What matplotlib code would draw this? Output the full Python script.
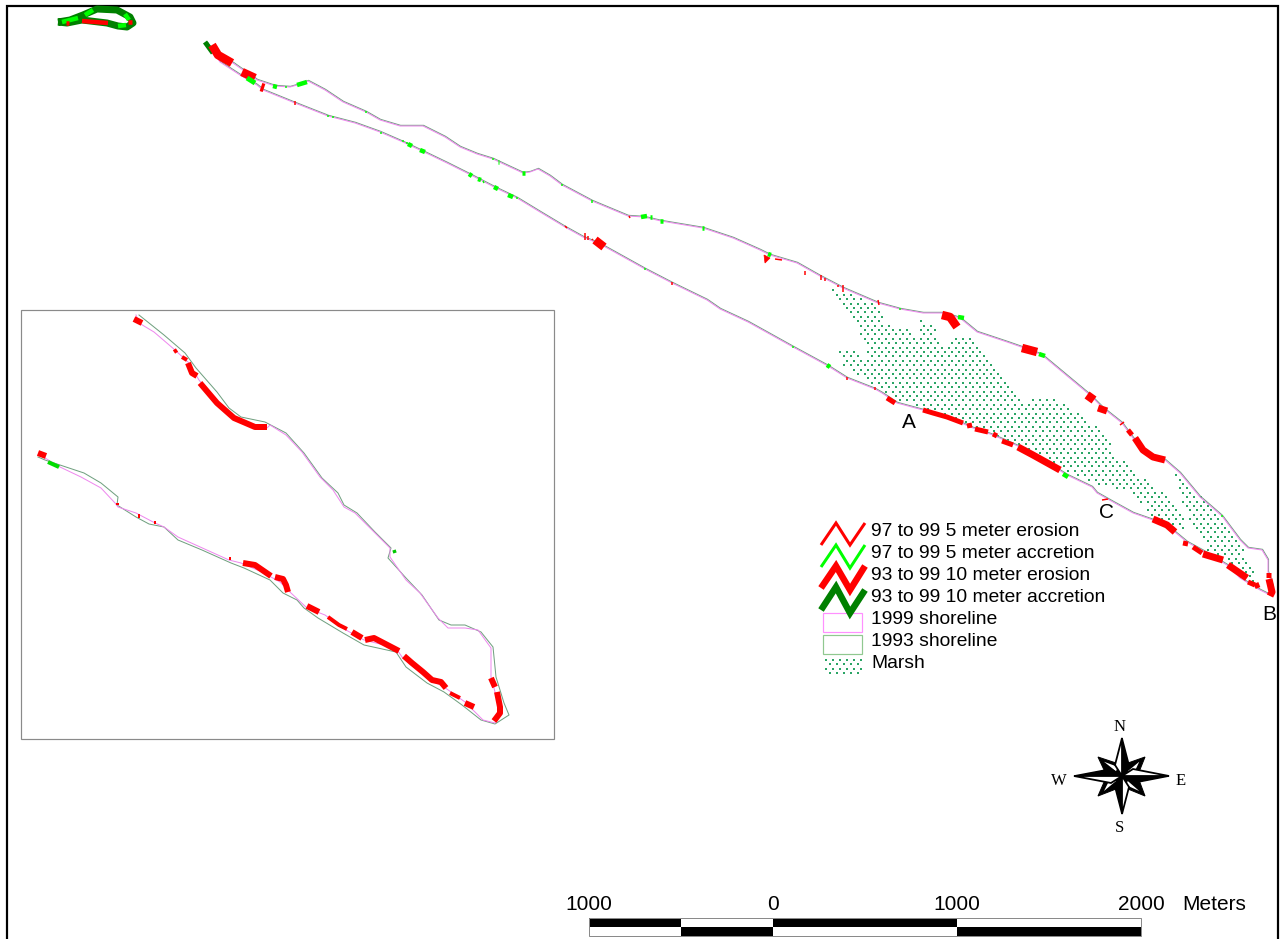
import numpy as np
import matplotlib
matplotlib.use("Agg")
import matplotlib.pyplot as plt
from matplotlib.path import Path
from matplotlib.patches import Polygon, Rectangle
from matplotlib.transforms import offset_copy

# everything in image pixels
north_shore = [(207, 43), (213, 53), (233, 63), (243, 70), (257, 80), (275, 86), (290, 87), (297, 85), (308, 81),
               (325, 90), (343, 102), (366, 112), (380, 120), (400, 126), (423, 126), (445, 137), (460, 147), (477, 154),
               (493, 159), (510, 167), (523, 173), (530, 172), (538, 169), (550, 176), (562, 185), (592, 201), (628, 216),
               (644, 217), (661, 221), (703, 228), (733, 238), (760, 250), (770, 255), (797, 263), (820, 276), (843, 288),
               (878, 303), (900, 309), (923, 313), (943, 313), (960, 318), (977, 332), (1007, 342), (1030, 350),
               (1042, 355), (1060, 370), (1090, 395), (1103, 408), (1122, 423), (1133, 438), (1147, 453), (1165, 460),
               (1180, 473), (1200, 497), (1222, 516), (1240, 540), (1248, 548), (1262, 550), (1268, 560),
               (1268, 572), (1273, 587), (1270, 595)]
south_shore = [(1270, 595), (1260, 590), (1240, 578), (1227, 565), (1207, 553), (1187, 542), (1170, 528),
               (1153, 520), (1133, 513), (1113, 502), (1097, 493), (1092, 487), (1067, 475), (1040, 458),
               (1020, 447), (993, 435), (973, 428), (950, 418), (923, 410), (897, 403), (882, 393), (875, 389),
               (847, 378), (828, 366), (793, 347), (748, 322), (720, 309), (707, 300), (672, 283), (645, 269),
               (600, 244), (583, 237), (565, 227), (540, 212), (517, 198), (496, 188), (471, 175), (447, 163),
               (422, 151), (403, 142), (380, 132), (355, 123), (328, 116), (295, 103), (263, 90), (257, 85),
               (240, 75), (220, 62), (207, 43)]

island = [(58, 22), (70, 20), (83, 15), (97, 9), (117, 10), (130, 17), (133, 23), (127, 27), (118, 26), (107, 23),
          (82, 20), (67, 23), (58, 22)]
island_green = [[(62, 22), (78, 18)], [(85, 15), (93, 10)], [(125, 14), (129, 20)], [(118, 26), (126, 25)]]
island_red = [[(82, 21), (108, 23)], [(66, 23), (69, 23)], [(128, 22), (132, 22)]]

erosion_heavy = [[(212, 45), (218, 55), (232, 63)], [(242, 72), (255, 78)], [(261, 87), (264, 88)],
                 [(595, 240), (604, 247)], [(942, 315), (950, 317), (957, 327)], [(1087, 395), (1094, 400)],
                 [(1022, 348), (1037, 352)]]
erosion_thick = [[(1098, 408), (1107, 411)], [(1135, 438), (1143, 450), (1153, 457), (1165, 460)],
                 [(1018, 447), (1033, 455), (1060, 470)], [(1153, 519), (1167, 525), (1175, 532)],
                 [(1203, 554), (1223, 560)], [(1228, 565), (1247, 578)], [(1269, 579), (1272, 592), (1270, 596)]]
erosion_mid = [[(923, 410), (933, 413), (947, 417), (963, 423)], [(967, 426), (972, 425)], [(975, 429), (988, 432)],
               [(993, 434), (997, 436)], [(1002, 441), (1013, 445)], [(887, 398), (895, 403)],
               [(1128, 430), (1132, 435)], [(1183, 543), (1188, 544)], [(1193, 547), (1202, 553)],
               [(1248, 582), (1255, 585)], [(1256, 583), (1258, 588)], [(1266, 575), (1271, 575)]]
erosion_thin = [[(295, 101), (295, 105)], [(565, 226), (567, 228)], [(585, 233), (585, 240)], [(588, 236), (588, 240)],
                [(592, 239), (593, 240)], [(629, 216), (630, 218)], [(672, 282), (672, 285)], [(775, 259), (782, 260)],
                [(805, 271), (805, 275)], [(821, 275), (821, 280)], [(825, 278), (825, 281)], [(838, 285), (838, 287)],
                [(843, 285), (843, 292)], [(847, 377), (847, 380)], [(875, 387), (875, 390)], [(878, 300), (879, 305)],
                [(1120, 425), (1124, 422)], [(1102, 500), (1108, 499)]]
erosion_wedge = [(764, 255), (770, 258), (765, 263)]
accretion_thin = [[(273, 86), (277, 87)], [(297, 85), (307, 82)], [(408, 144), (412, 146)], [(420, 150), (425, 152)],
                  [(469, 174), (472, 176)], [(478, 179), (481, 180)], [(494, 187), (498, 189)], [(508, 195), (513, 197)],
                  [(498, 162), (499, 162)], [(522, 173), (525, 173)], [(641, 217), (647, 216)], [(650, 217), (652, 217)],
                  [(660, 221), (663, 221)], [(702, 228), (704, 228)], [(768, 254), (771, 255)], [(827, 365), (830, 367)],
                  [(958, 317), (964, 318)], [(1039, 354), (1045, 356)], [(1063, 474), (1068, 477)]]
accretion_tick = [[(286, 86), (286, 88)], [(328, 115), (328, 117)], [(333, 116), (333, 118)], [(366, 111), (366, 113)],
                  [(381, 132), (381, 134)], [(403, 140), (403, 142)], [(407, 142), (407, 144)], [(483, 181), (484, 183)],
                  [(493, 158), (493, 160)], [(517, 197), (517, 199)], [(562, 184), (562, 186)], [(592, 200), (592, 203)],
                  [(645, 268), (645, 270)], [(793, 346), (793, 348)], [(900, 308), (900, 310)], [(1222, 515), (1222, 517)]]
accretion_dark = [[(205, 42), (213, 53)]]
accretion_west = [[(247, 78), (255, 83)]]

marsh_main = [(832, 289), (847, 292), (870, 302), (882, 310), (883, 323), (907, 330), (918, 335), (920, 320),
              (932, 322), (938, 337), (942, 348), (953, 335), (977, 340), (987, 355), (1003, 377), (1020, 402),
              (1040, 397), (1060, 402), (1073, 408), (1090, 422), (1103, 433), (1117, 457), (1147, 480), (1167, 497),
              (1182, 515), (1190, 533), (1177, 528), (1153, 518), (1143, 503), (1123, 490), (1093, 483), (1063, 472),
              (1017, 445), (973, 427), (923, 408), (897, 400), (883, 390), (867, 382), (843, 367), (838, 350),
              (857, 350), (867, 365), (867, 350), (857, 327)]
marsh_east = [(1172, 467), (1190, 487), (1217, 513), (1233, 533), (1250, 563), (1263, 590), (1243, 577), (1227, 562),
              (1207, 550), (1197, 533), (1183, 507)]
marsh_key = [(824, 657), (862, 657), (862, 676), (824, 676)]

inset_1999 = [(136, 315), (139, 323), (154, 332), (175, 350), (189, 363), (199, 380), (217, 403), (234, 420), (267, 428),
              (270, 425), (286, 435), (302, 452), (320, 477), (333, 490), (344, 507), (355, 513), (375, 533), (390, 548),
              (390, 557), (406, 580), (420, 593), (438, 618), (448, 628), (465, 628), (478, 630), (491, 648), (491, 677),
              (499, 707), (501, 715), (495, 723), (483, 720), (465, 702), (444, 687), (427, 678), (402, 657), (396, 648),
              (364, 640), (346, 630), (325, 615), (307, 608), (291, 593), (280, 582), (262, 572), (241, 563), (229, 560),
              (178, 537), (164, 527), (155, 523), (136, 513), (118, 507), (115, 503), (101, 488), (81, 477), (60, 467),
              (45, 458), (38, 455)]
inset_1993 = [(139, 315), (149, 323), (164, 335), (185, 353), (196, 368), (217, 392), (229, 408), (241, 417), (265, 422),
              (286, 433), (304, 453), (322, 478), (338, 493), (344, 505), (357, 513), (375, 532), (391, 548), (388, 558),
              (406, 578), (422, 595), (439, 620), (451, 625), (465, 625), (481, 632), (493, 647), (496, 677), (504, 703),
              (509, 715), (495, 724), (481, 720), (462, 705), (444, 692), (427, 683), (406, 667), (396, 652), (364, 645),
              (343, 633), (318, 618), (304, 608), (297, 600), (283, 593), (270, 580), (244, 568), (231, 563), (202, 550),
              (178, 540), (164, 527), (149, 524), (136, 517), (117, 505), (118, 497), (101, 483), (84, 473), (60, 465),
              (45, 460), (38, 457)]
inset_thick = [[(134, 319), (142, 323)], [(188, 363), (192, 373), (197, 376)],
               [(200, 383), (217, 403), (234, 418), (255, 427), (267, 427)], [(38, 453), (46, 456)],
               [(243, 563), (255, 565), (271, 576)], [(275, 577), (283, 579), (286, 585), (288, 592)],
               [(307, 606), (319, 612)], [(352, 632), (362, 638)], [(365, 640), (374, 638), (399, 651)],
               [(404, 656), (412, 663), (423, 672), (432, 680), (441, 682), (446, 688)], [(465, 703), (474, 707)],
               [(491, 678), (495, 687)], [(497, 692), (500, 707), (500, 713), (494, 721)]]
inset_mid = [[(174, 352), (177, 350)], [(182, 357), (187, 360)], [(328, 617), (339, 625), (347, 629)],
             [(450, 693), (460, 698)]]
inset_tick = [[(116, 504), (119, 504)], [(139, 514), (139, 518)], [(155, 521), (155, 524)], [(230, 557), (230, 560)]]
inset_green = [[(48, 462), (59, 467)]]
inset_dot = [[(394, 550), (395, 553)]]

legend_labels = ["97 to 99 5 meter erosion", "97 to 99 5 meter accretion", "93 to 99 10 meter erosion",
                 "93 to 99 10 meter accretion", "1999 shoreline", "1993 shoreline", "Marsh"]
legend_zigzags = [[(821, 545), (836, 523), (850, 545), (865, 523)], [(821, 567), (836, 545), (850, 568), (865, 545)],
                  [(821, 588), (836, 566), (850, 590), (865, 566)], [(821, 610), (836, 587), (850, 613), (865, 590)]]
legend_colors = ["#ff0000", "#00ff00", "#ff0000", "#008000"]
legend_widths = [3, 3, 6.5, 6.5]

scale_ticks = [589, 681, 773, 957, 1141]
scale_labels = ["1000", "", "0", "1000", "2000"]

pink = "#ee88ee"
pale_green = "#6f9f7f"
red = "#ff0000"
lime = "#00ff00"
dark_green = "#008000"
marsh_color = "#2ba566"


def px(w):
    return w * 72 / 100


def draw(segments, color, width, **kw):
    for seg in segments:
        xs, ys = zip(*seg)
        ax.plot(xs, ys, color=color, lw=px(width), solid_capstyle="butt", solid_joinstyle="round", **kw)


def stipple(poly):
    gx, gy = np.meshgrid(np.arange(0, 1281, 7.0), np.arange(0, 939, 4.4))
    gx = gx.copy()
    gx[1::2] += 3.5
    pts = np.column_stack([gx.ravel(), gy.ravel()])
    pts = pts[Path(poly).contains_points(pts)]
    ax.scatter(pts[:, 0], pts[:, 1], s=1.8, marker="s", color=marsh_color, linewidths=0, zorder=1)


plt.rcParams["font.family"] = ["Liberation Sans", "DejaVu Sans"]
fig = plt.figure(figsize=(12.81, 9.39), dpi=100)
ax = fig.add_axes([0, 0, 1, 1])
ax.set_xlim(0, 1281)
ax.set_ylim(939, 0)
ax.axis("off")

# outer frame, runs off the bottom of the picture
ax.plot([7, 7, 1278, 1278], [939, 6, 6, 939], color="black", lw=px(2.2), solid_joinstyle="miter")

stipple(marsh_main)
stipple(marsh_east)
stipple(marsh_key)

shifted = offset_copy(ax.transData, fig=fig, x=0.4, y=0.5, units="points")
for shore in (north_shore, south_shore):
    xs, ys = zip(*shore)
    ax.plot(xs, ys, color=pale_green, lw=px(1.0), transform=shifted)
    ax.plot(xs, ys, color=pink, lw=px(1.0))

draw(accretion_dark, dark_green, 5)
draw([island], dark_green, 7)
draw(island_green, lime, 4.5)
draw(island_red, red, 4.5)
draw(erosion_heavy, red, 8.5)
draw(erosion_thick, red, 7)
draw(erosion_mid, red, 5)
draw(erosion_thin, red, 1.5)
draw(accretion_thin, lime, 4.5)
draw(accretion_tick, lime, 1.5)
draw(accretion_west, lime, 5)
ax.add_patch(Polygon(erosion_wedge, closed=True, fc=red, ec=red, lw=0.5))

# inset box
ax.add_patch(Rectangle((21, 310), 533, 429, fc="none", ec="#8a8a8a", lw=px(1.2)))
xs, ys = zip(*inset_1993)
ax.plot(xs, ys, color=pale_green, lw=px(1.0))
xs, ys = zip(*inset_1999)
ax.plot(xs, ys, color=pink, lw=px(1.0))
draw(inset_thick, red, 6)
draw(inset_mid, red, 4)
draw(inset_tick, red, 2)
draw(inset_green, "#00dd00", 4)
draw(inset_dot, "#00c800", 3.5)

ax.text(909, 422, "A", fontsize=15, ha="center", va="center")
ax.text(1106, 512, "C", fontsize=15, ha="center", va="center")
ax.text(1269, 614, "B", fontsize=15, ha="center", va="center")

# legend
for seg, col, w in zip(legend_zigzags, legend_colors, legend_widths):
    xs, ys = zip(*seg)
    ax.plot(xs, ys, color=col, lw=px(w), solid_joinstyle="miter", solid_capstyle="butt")
ax.add_patch(Rectangle((823, 613), 39, 19, fc="white", ec="#ff90ff", lw=px(1.2)))
ax.add_patch(Rectangle((823, 635), 39, 19, fc="none", ec="#90c890", lw=px(1.2)))
for i, label in enumerate(legend_labels):
    ax.text(871, 532 + i * 22, label, fontsize=13.9, ha="left", va="center")

# north arrow
cx, cy = 1122, 776
arms = [((0, -38), (7, -11), (-7, -11)), ((47, 0), (11, 7), (11, -7)),
        ((0, 38), (-7, 11), (7, 11)), ((-48, 0), (-11, -7), (-11, 7))]
diagonals = [((23, -19), (6, -13), (17, -4)), ((23, 20), (17, 4), (6, 13)),
             ((-24, 20), (-6, 13), (-17, 4)), ((-24, -19), (-17, -4), (-6, -13))]
for tip, a, b in diagonals:
    t = (cx + tip[0], cy + tip[1])
    ax.add_patch(Polygon([t, (cx + a[0], cy + a[1]), (cx, cy), (cx + b[0], cy + b[1])], fc="black", ec="black",
                         lw=px(1), zorder=4))
    sliver = [(cx + 0.75 * tip[0], cy + 0.75 * tip[1]), (cx + 0.7 * b[0], cy + 0.7 * b[1]), (cx + 0.25 * tip[0], cy + 0.25 * tip[1])]
    ax.add_patch(Polygon(sliver, fc="white", ec="none", zorder=4))
for tip, a, b in arms:
    t = (cx + tip[0], cy + tip[1])
    ax.add_patch(Polygon([t, (cx + a[0], cy + a[1]), (cx, cy)], fc="black", ec="black", lw=px(1.5), zorder=4))
    ax.add_patch(Polygon([t, (cx + b[0], cy + b[1]), (cx, cy)], fc="white", ec="black", lw=px(1.8), zorder=4))
compass_kw = dict(family=["Liberation Serif"], fontsize=12, ha="center", va="center")
ax.text(1120, 727, "N", **compass_kw)
ax.text(1120, 828, "S", **compass_kw)
ax.text(1059, 781, "W", **compass_kw)
ax.text(1181, 781, "E", **compass_kw)

# scale bar
for i in range(len(scale_ticks) - 1):
    x0, x1 = scale_ticks[i], scale_ticks[i + 1]
    top = "black" if i % 2 == 0 else "white"
    bottom = "white" if i % 2 == 0 else "black"
    ax.add_patch(Rectangle((x0, 918), x1 - x0, 9, fc=top, ec="none"))
    ax.add_patch(Rectangle((x0, 927), x1 - x0, 9, fc=bottom, ec="none"))
ax.add_patch(Rectangle((589, 918), 552, 18, fc="none", ec="#8a8a8a", lw=px(1)))
for x, label in zip(scale_ticks, scale_labels):
    ax.text(x, 904, label, fontsize=15, ha="center", va="center")
ax.text(1214, 904, "Meters", fontsize=15, ha="center", va="center")

fig.savefig("out.png", dpi=100)
